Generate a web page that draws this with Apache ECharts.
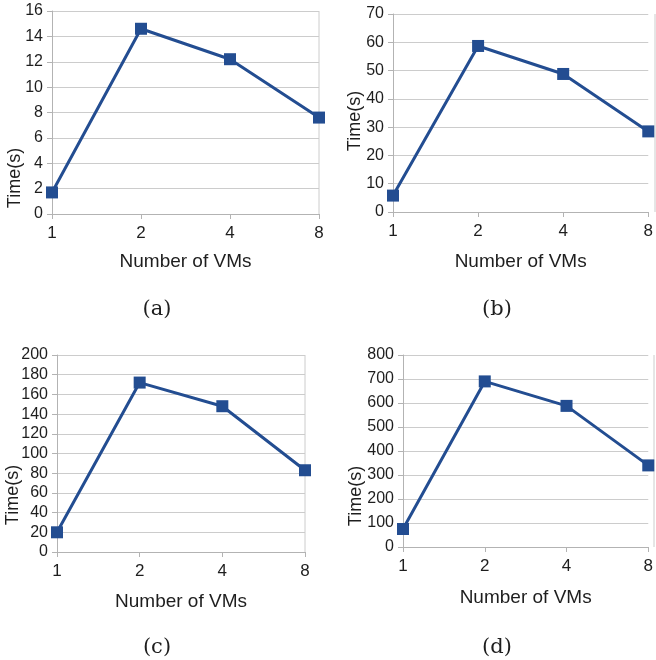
<!DOCTYPE html>
<html><head><meta charset="utf-8">
<script src="https://cdn.jsdelivr.net/npm/echarts@6/dist/echarts.min.js"></script>
<style>html,body{margin:0;padding:0;background:#fff}#c{width:656px;height:660px}</style>
</head><body><div id="c"></div>
<script>
const categories = ['1', '2', '4', '8'];
const seriesA = [1.7, 14.6, 12.2, 7.6];
const seriesB = [5.8, 58.7, 48.8, 28.5];
const seriesC = [20, 172, 148, 83];
const seriesD = [75, 690, 588, 340];
const yMax = [16, 70, 200, 800];
const yInterval = [2, 10, 20, 100];
const captions = ['(a)', '(b)', '(c)', '(d)'];
const xTitle = 'Number of VMs';
const yTitle = 'Time(s)';

const grids = [
  {left: 52, top: 11, width: 267, height: 203},
  {left: 393, top: 14, width: 262, height: 198},
  {left: 57, top: 355, width: 248, height: 197},
  {left: 403, top: 355, width: 251, height: 192}
];
const nameGaps = [38, 40, 40, 41];
const yTitlePos = [[15, 178], [355, 121], [13, 495], [356, 496]];
const captionPos = [[157, 310], [497, 310], [157, 648], [497, 648]];
const allSeries = [seriesA, seriesB, seriesC, seriesD];
const font = 'Liberation Sans';
const lineColor = '#234d91';
const textColor = '#1e1e1e';

const option = {
  animation: false,
  grid: grids.map(g => Object.assign({containLabel: false}, g)),
  xAxis: grids.map((g, i) => ({
    type: 'category', gridIndex: i, data: categories, boundaryGap: false,
    axisLine: {show: true, lineStyle: {color: '#b3b3b3', width: 1}},
    axisTick: {show: true, alignWithLabel: true, length: 5, lineStyle: {color: '#b3b3b3'}},
    axisLabel: {color: textColor, fontSize: 17, fontFamily: font, margin: 11},
    splitLine: {show: false},
    name: xTitle, nameLocation: 'middle', nameGap: nameGaps[i],
    nameTextStyle: {color: textColor, fontSize: 19, fontFamily: font}
  })),
  yAxis: grids.map((g, i) => ({
    type: 'value', gridIndex: i, min: 0, max: yMax[i], interval: yInterval[i],
    axisLine: {show: true, lineStyle: {color: '#b3b3b3', width: 1}},
    axisTick: {show: true, length: 5, lineStyle: {color: '#b3b3b3'}},
    axisLabel: {color: textColor, fontSize: 16, fontFamily: font, margin: 9},
    splitLine: {show: true, lineStyle: {color: '#cccccc', width: 1}}
  })),
  series: allSeries.map((d, i) => ({
    type: 'line', xAxisIndex: i, yAxisIndex: i, data: d,
    symbol: 'rect', symbolSize: 12,
    lineStyle: {color: lineColor, width: 3},
    itemStyle: {color: lineColor}
  })),
  graphic: [
    ...grids.map(g => ({type: 'line', silent: true,
      shape: {x1: g.left + g.width, y1: g.top, x2: g.left + g.width, y2: g.top + g.height},
      style: {stroke: '#cccccc', lineWidth: 1}})),
    ...yTitlePos.map(p => ({type: 'text', x: p[0], y: p[1], rotation: Math.PI / 2,
      style: {text: yTitle, font: '18px "Liberation Sans"', fill: textColor, textAlign: 'center', textVerticalAlign: 'middle'}})),
    ...captionPos.map((p, i) => ({type: 'text', x: p[0], y: p[1],
      style: {text: captions[i], font: '21px "DejaVu Serif"', fill: textColor, textAlign: 'center', textVerticalAlign: 'middle'}}))
  ]
};
const chart = echarts.init(document.getElementById('c'), null, {renderer: 'canvas'});
chart.setOption(option);
</script></body></html>
